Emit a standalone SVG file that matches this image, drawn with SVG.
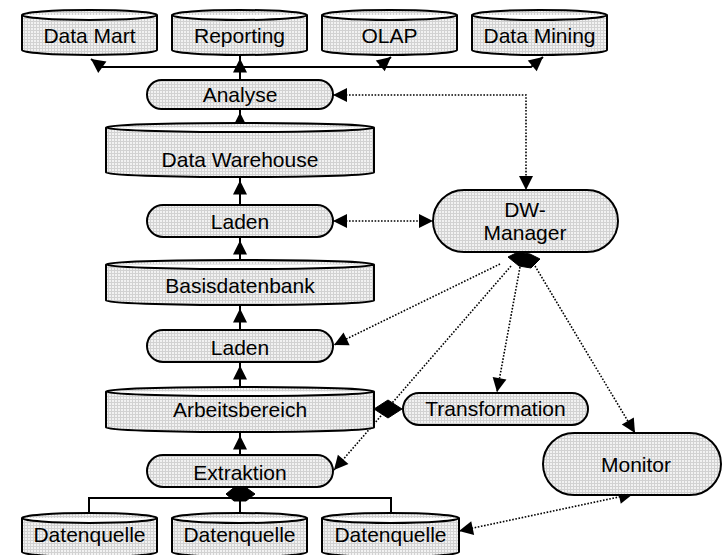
<svg xmlns="http://www.w3.org/2000/svg" width="722" height="555" viewBox="0 0 722 555">
<style>
.n{fill:url(#grid);stroke:#000;stroke-width:2}
.t{font-family:"Liberation Sans",Arial,sans-serif;font-size:21px;fill:#000;text-anchor:middle}
.s{fill:none;stroke:#000;stroke-width:2}
.d{fill:none;stroke:#000;stroke-width:1.6;stroke-dasharray:1.6 1.6}
.dia{fill:#000;stroke:#000;stroke-width:1}
</style>
<defs>
<pattern id="grid" width="3" height="3" patternUnits="userSpaceOnUse">
<rect width="3" height="3" fill="#f2f2f2"/>
<path d="M0,0.5 H3 M0.5,0 V3" stroke="#d2d2d2" stroke-width="1"/>
</pattern>
<marker id="ah" viewBox="0 0 14 14" markerWidth="14" markerHeight="14" refX="14" refY="7" orient="auto-start-reverse" markerUnits="userSpaceOnUse" overflow="visible"><path d="M0,0 L14,7 L0,14 z" fill="#000"/></marker>
<marker id="aho" viewBox="0 0 14 14" markerWidth="14" markerHeight="14" refX="17.5" refY="7" orient="auto" markerUnits="userSpaceOnUse" overflow="visible"><path d="M0,0 L14,7 L0,14 z" fill="#000"/></marker>
</defs>

<g id="connectors">
<path class="s" d="M240,80 V55" marker-end="url(#aho)"/>
<path class="s" d="M240,67 H102 L91,59" marker-end="url(#ah)"/>
<path class="s" d="M240,67 H379 L391,57" marker-end="url(#ah)"/>
<path class="s" d="M240,67 H531 L543,57" marker-end="url(#ah)"/>
<path class="s" d="M240,123 V109" marker-end="url(#aho)"/>
<path class="s" d="M240,205 V177" marker-end="url(#aho)"/>
<path class="s" d="M240,260 V237" marker-end="url(#aho)"/>
<path class="s" d="M240,330 V305" marker-end="url(#aho)"/>
<path class="s" d="M240,387 V362" marker-end="url(#aho)"/>
<path class="s" d="M240,455 V432" marker-end="url(#aho)"/>
<path class="s" d="M240,487 V513 M89,513 V498 H391 V513"/>
<polygon class="dia" points="226,494 234,487.5 246,487.5 255,494 246,501 234,501"/>
<polygon class="dia" points="374,409 388,400 402,409 388,418"/>
<path class="d" d="M333,95 H526 V190" marker-start="url(#ah)" marker-end="url(#ah)"/>
<path class="d" d="M333,221 H433" marker-start="url(#ah)" marker-end="url(#ah)"/>
<path class="d" d="M500,264 L334,345" marker-end="url(#ah)"/>
<path class="d" d="M511,266 L334,470" marker-end="url(#ah)"/>
<path class="d" d="M520,267 L497,392" marker-end="url(#ah)"/>
<path class="d" d="M535,266 L635,433" marker-end="url(#ah)"/>
<path class="d" d="M459,531 L633,494" marker-start="url(#ah)" marker-end="url(#ah)"/>
<polygon class="dia" points="508,257 518,252 530,254 540,259 531,268 519,266"/>
</g>

<g id="datamart">
<path class="n" d="M22,15 A67.5,5 0 0 1 157,15 V50 A67.5,5 0 0 1 22,50 Z M22,15 A67.5,5 0 0 0 157,15"/>
<text class="t" x="89.5" y="43">Data Mart</text>
</g>
<g id="reporting">
<path class="n" d="M172,15 A67.5,5 0 0 1 307,15 V50 A67.5,5 0 0 1 172,50 Z M172,15 A67.5,5 0 0 0 307,15"/>
<text class="t" x="239.5" y="43">Reporting</text>
</g>
<g id="olap">
<path class="n" d="M322,15 A67.5,5 0 0 1 457,15 V50 A67.5,5 0 0 1 322,50 Z M322,15 A67.5,5 0 0 0 457,15"/>
<text class="t" x="389.5" y="43">OLAP</text>
</g>
<g id="datamining">
<path class="n" d="M472,15 A67.5,5 0 0 1 607,15 V50 A67.5,5 0 0 1 472,50 Z M472,15 A67.5,5 0 0 0 607,15"/>
<text class="t" x="539.5" y="43">Data Mining</text>
</g>

<g id="analyse">
<rect class="n" x="147" y="80" width="186" height="29" rx="14.5"/>
<text class="t" x="240" y="101.5">Analyse</text>
</g>
<g id="datawarehouse">
<path class="n" d="M106,127.5 A134,4.5 0 0 1 374,127.5 V172.5 A134,4.5 0 0 1 106,172.5 Z M106,127.5 A134,4.5 0 0 0 374,127.5"/>
<text class="t" x="240" y="167">Data Warehouse</text>
</g>
<g id="laden1">
<rect class="n" x="147" y="205" width="186" height="32" rx="16"/>
<text class="t" x="240" y="229">Laden</text>
</g>
<g id="basisdatenbank">
<path class="n" d="M106,264.5 A134,4.5 0 0 1 374,264.5 V300.5 A134,4.5 0 0 1 106,300.5 Z M106,264.5 A134,4.5 0 0 0 374,264.5"/>
<text class="t" x="240" y="293">Basisdatenbank</text>
</g>
<g id="laden2">
<rect class="n" x="147" y="330" width="186" height="32" rx="16"/>
<text class="t" x="240" y="355">Laden</text>
</g>
<g id="arbeitsbereich">
<path class="n" d="M106,391.5 A134,4.5 0 0 1 374,391.5 V427.5 A134,4.5 0 0 1 106,427.5 Z M106,391.5 A134,4.5 0 0 0 374,391.5"/>
<text class="t" x="240" y="417">Arbeitsbereich</text>
</g>
<g id="extraktion">
<rect class="n" x="147" y="455" width="186" height="32" rx="16"/>
<text class="t" x="240" y="480">Extraktion</text>
</g>
<g id="datenquelle1">
<path class="n" d="M22,518 A67.5,5 0 0 1 157,518 V552 A67.5,5 0 0 1 22,552 Z M22,518 A67.5,5 0 0 0 157,518"/>
<text class="t" x="89.5" y="542">Datenquelle</text>
</g>
<g id="datenquelle2">
<path class="n" d="M172,518 A67.5,5 0 0 1 307,518 V552 A67.5,5 0 0 1 172,552 Z M172,518 A67.5,5 0 0 0 307,518"/>
<text class="t" x="239.5" y="542">Datenquelle</text>
</g>
<g id="datenquelle3">
<path class="n" d="M322,518 A68.5,5 0 0 1 459,518 V552 A68.5,5 0 0 1 322,552 Z M322,518 A68.5,5 0 0 0 459,518"/>
<text class="t" x="390.5" y="542">Datenquelle</text>
</g>
<g id="dwmanager">
<rect class="n" x="433" y="190" width="185" height="62" rx="31"/>
<text class="t" x="525" y="217">DW-</text>
<text class="t" x="525" y="240">Manager</text>
</g>
<g id="transformation">
<rect class="n" x="403" y="393" width="185" height="32" rx="16"/>
<text class="t" x="495.5" y="416">Transformation</text>
</g>
<g id="monitor">
<rect class="n" x="543" y="433" width="178" height="62" rx="31"/>
<text class="t" x="636" y="472">Monitor</text>
</g>
</svg>
